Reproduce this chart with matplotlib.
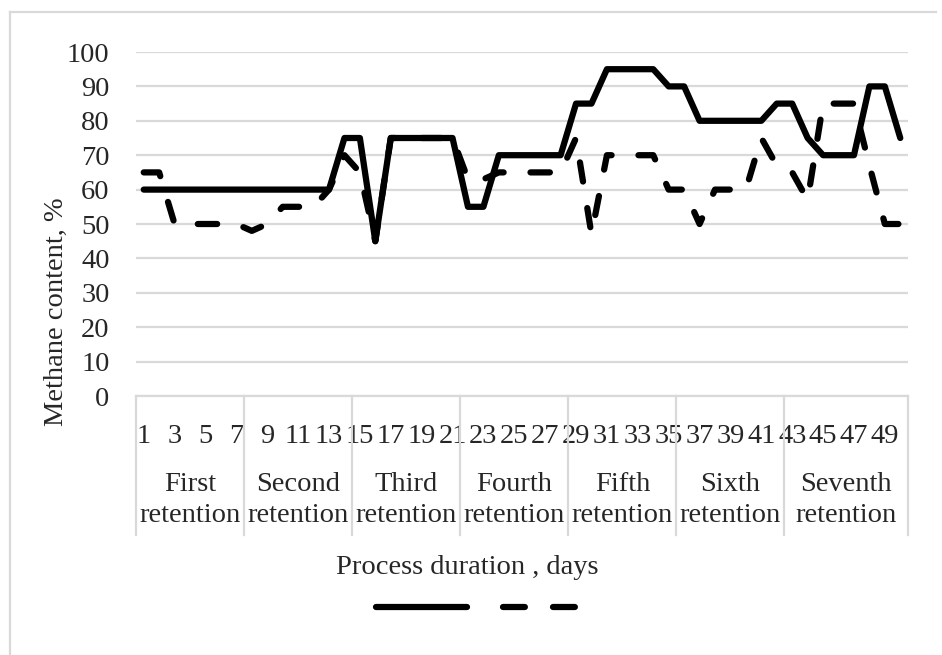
import matplotlib.pyplot as plt
from matplotlib.lines import Line2D
import matplotlib.transforms as mtransforms

plt.rcParams['font.family'] = ['Liberation Serif', 'DejaVu Serif']

# days of the process, one value per day
days = list(range(1, 51))
solid_values = [60, 60, 60, 60, 60, 60, 60, 60, 60, 60, 60, 60, 60,
                75, 75, 45, 75, 75, 75, 75, 75, 55, 55, 70, 70, 70, 70, 70,
                85, 85, 95, 95, 95, 95, 90, 90, 80, 80, 80, 80, 80, 85, 85,
                75, 70, 70, 70, 90, 90, 75]
dashed_values = [65, 65, 50, 50, 50, 50, 50, 48, 50, 55, 55, 55, 60,
                 70, 65, 45, 75, 75, 75, 75, 75, 63, 63, 65, 65, 65, 65, 65,
                 75, 47, 70, 70, 70, 70, 60, 60, 50, 60, 60, 60, 75, 67, 65,
                 57, 85, 85, 85, 67, 50, 50]

# retention periods (first and last day of each)
group_names = ['First\nretention', 'Second\nretention', 'Third\nretention',
               'Fourth\nretention', 'Fifth\nretention', 'Sixth\nretention',
               'Seventh\nretention']
group_starts = [1, 8, 15, 22, 29, 36, 43]
group_ends = [7, 14, 21, 28, 35, 42, 50]

tick_days = [d for d in days if d % 2 == 1]
y_ticks = list(range(0, 101, 10))

FS = 20.5
GRID = '#d9d9d9'
TXT = '#262626'

fig = plt.figure(figsize=(9.42, 6.55), dpi=100)
ax = fig.add_axes([136 / 942, 1 - 396 / 655, 772 / 942, 344 / 655])

lw = 4.5
ax.plot(days, solid_values, color='black', lw=lw, solid_joinstyle='round',
        solid_capstyle='round', zorder=3)
ax.plot(days, dashed_values, color='black', lw=lw, linestyle=(0, (3.1, 4.3)),
        dash_capstyle='round', dash_joinstyle='round', zorder=2)

ax.set_xlim(0.5, 50.5)
ax.set_ylim(0, 100)
ax.set_yticks(y_ticks)
ax.set_yticklabels([str(v) for v in y_ticks], fontsize=FS, color=TXT)
ax.set_xticks(tick_days)
ax.set_xticklabels([str(d) for d in tick_days], fontsize=FS, color=TXT)
ax.tick_params(axis='both', length=0)
ax.tick_params(axis='y', pad=19)
ax.tick_params(axis='x', pad=20)

ax.grid(axis='y', color=GRID, lw=1.6)
ax.set_axisbelow(True)
for s in ['top', 'right', 'left']:
    ax.spines[s].set_visible(False)
ax.spines['bottom'].set_color(GRID)
ax.spines['bottom'].set_linewidth(1.6)

# category table under the axis
trans = mtransforms.blended_transform_factory(ax.transData, ax.transAxes)
bounds = [group_starts[0] - 0.5] + [e + 0.5 for e in group_ends]
for b in bounds:
    ax.add_line(Line2D([b, b], [0, -139 / 344], transform=trans, color=GRID,
                       lw=1.6, clip_on=False))
for name, s, e in zip(group_names, group_starts, group_ends):
    ax.text((s + e) / 2, -104 / 344, name, transform=trans, ha='center',
            va='center', fontsize=FS, color=TXT, linespacing=1.3)

fig.text(467 / 942, 1 - 568 / 655, 'Process duration , days', ha='center',
         va='center', fontsize=FS, color=TXT)
fig.text(56 / 942, 1 - 312 / 655, 'Methane content, %', ha='center',
         va='center', rotation=90, fontsize=FS, color=TXT)

handles = [Line2D([], [], color='black', lw=lw, solid_capstyle='round'),
           Line2D([], [], color='black', lw=lw, linestyle=(0, (3.5, 4.5)),
                  dash_capstyle='round')]
fig.legend(handles, ['', ''], loc='center', bbox_to_anchor=(485 / 942, 1 - 610 / 655),
           ncol=2, frameon=False, fontsize=FS, handlelength=3.2,
           handletextpad=0, columnspacing=1.25)

# outer chart border
fig.add_artist(Line2D([10 / 942, 10 / 942], [0, 1 - 12 / 655], transform=fig.transFigure,
                      color=GRID, lw=1.6))
fig.add_artist(Line2D([10 / 942, 936 / 942], [1 - 12 / 655, 1 - 12 / 655],
                      transform=fig.transFigure, color=GRID, lw=1.6))

fig.savefig('out.png', dpi=100)
